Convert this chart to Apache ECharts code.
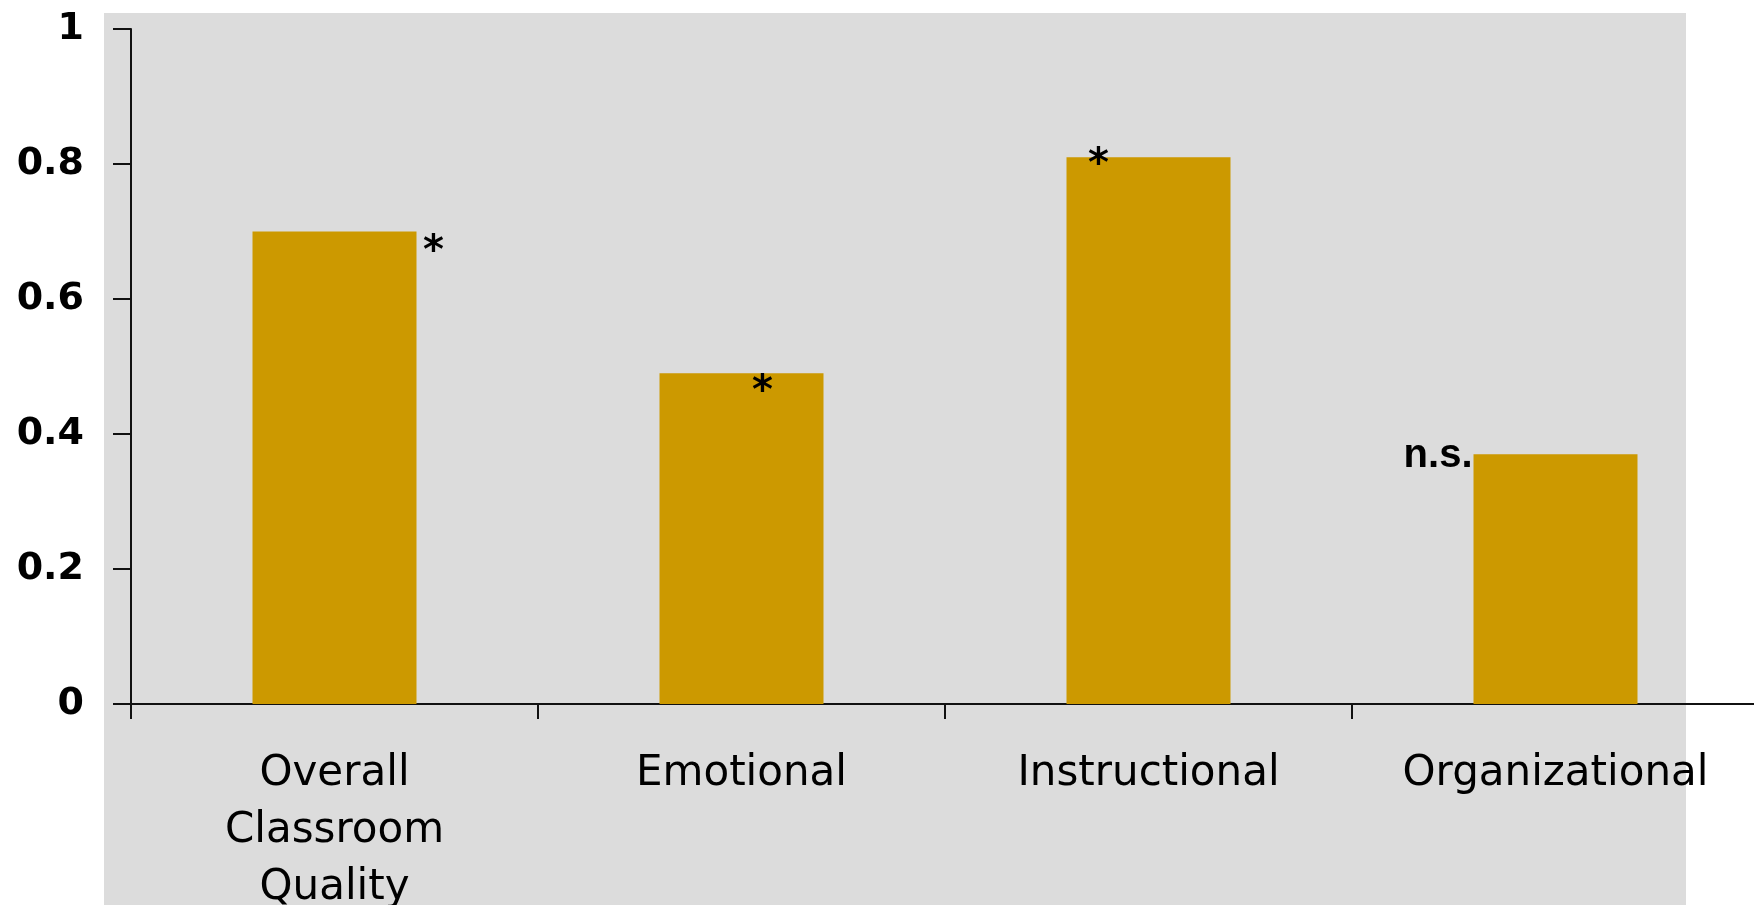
<!DOCTYPE html>
<html>
<head>
<meta charset="utf-8">
<script src="https://cdn.jsdelivr.net/npm/echarts@6/dist/echarts.min.js"></script>
<style>
  html, body { margin: 0; padding: 0; background: #fff; }
  #chart { width: 1754px; height: 905px; }
</style>
</head>
<body>
<div id="chart"></div>
<script>
const categories = ['Overall\nClassroom\nQuality', 'Emotional', 'Instructional', 'Organizational'];
const values = [0.70, 0.49, 0.81, 0.37];
const marks = ['*', '*', '*', 'n.s.'];
const yTicks = [0, 0.2, 0.4, 0.6, 0.8, 1];

// where each significance mark sits relative to the top of its bar
const markOffsets = [[99, 41], [21, 39], [-50, 28], [-83, 22]];
const markAlign = ['center', 'center', 'center', 'right'];
const markFont = ['DejaVu Sans', 'DejaVu Sans', 'DejaVu Sans', 'Liberation Sans'];

const chart = echarts.init(document.getElementById('chart'));

const option = {
  backgroundColor: '#ffffff',
  animation: false,
  graphic: [{
    type: 'rect',
    left: 104,
    top: 13,
    z: -10,
    shape: { width: 1582, height: 892 },
    style: { fill: '#dcdcdc' }
  }],
  grid: {
    left: 131,
    top: 29,
    width: 1628,
    height: 675,
    outerBoundsMode: 'none',
    containLabel: false
  },
  xAxis: {
    type: 'category',
    data: categories,
    boundaryGap: true,
    axisLine: { lineStyle: { color: '#111', width: 2 } },
    axisTick: { show: true, length: 15, lineStyle: { color: '#111', width: 2 } },
    axisLabel: {
      interval: 0,
      margin: 42,
      color: '#000',
      fontFamily: 'DejaVu Sans',
      fontSize: 42,
      lineHeight: 57
    },
    splitLine: { show: false }
  },
  yAxis: {
    type: 'value',
    min: 0,
    max: 1,
    interval: 0.2,
    axisLine: { show: true, lineStyle: { color: '#111', width: 2 } },
    axisTick: { show: true, length: 18, lineStyle: { color: '#111', width: 2 } },
    axisLabel: {
      margin: 47,
      color: '#000',
      fontFamily: 'DejaVu Sans',
      fontWeight: 'bold',
      fontSize: 38,
      formatter: function (v) {
        const t = yTicks.find(function (k) { return Math.abs(k - v) < 1e-9; });
        return t === undefined ? '' : String(t);
      }
    },
    splitLine: { show: false }
  },
  series: [{
    type: 'bar',
    barWidth: 164,
    itemStyle: { color: '#cc9900' },
    data: values.map(function (v, i) {
      return {
        value: v,
        label: {
          show: true,
          formatter: marks[i],
          position: 'top',
          distance: 0,
          offset: markOffsets[i],
          align: markAlign[i],
          color: '#000',
          fontFamily: markFont[i],
          fontWeight: 'bold',
          fontSize: 40,
          lineHeight: 40
        }
      };
    })
  }]
};

chart.setOption(option);
</script>
</body>
</html>
